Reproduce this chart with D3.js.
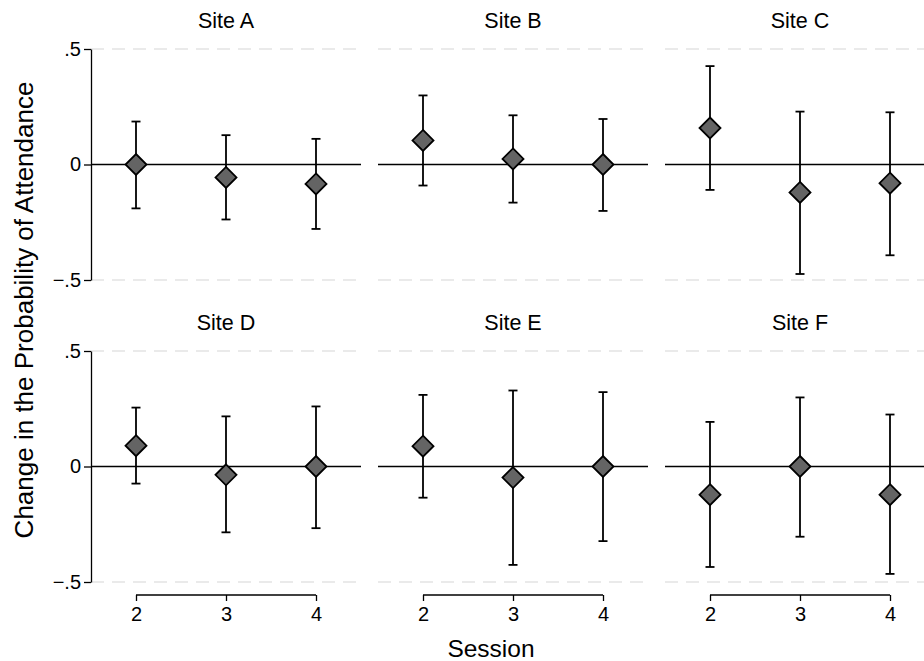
<!DOCTYPE html>
<html>
<head>
<meta charset="utf-8">
<script src="https://cdn.jsdelivr.net/npm/d3@7"></script>
<style>
  body { margin: 0; background: #fff; }
  svg { font-family: 'Liberation Sans', Arial, sans-serif; display: block; }
  .axis text { font-family: 'Liberation Sans', Arial, sans-serif; font-size: 20px; fill: #000; }
  .axis path, .axis line { stroke: #000; stroke-width: 1.3; }
</style>
</head>
<body>
<div id="chart"></div>
<script>
// sites shown in panels, left to right then top to bottom
let sites = ['Site A', 'Site B', 'Site C', 'Site D', 'Site E', 'Site F'];
let sessions = [2, 3, 4];
let yTicks = [-0.5, 0, 0.5];

// point estimates per site (sessions 2, 3, 4)
let estimate = [
  [0.000, -0.056, -0.084],
  [0.104, 0.024, 0.000],
  [0.158, -0.121, -0.081],
  [0.090, -0.036, 0.000],
  [0.088, -0.048, 0.000],
  [-0.122, 0.000, -0.122]
];
// upper and lower ends of the confidence intervals
let upper = [
  [0.186, 0.127, 0.111],
  [0.299, 0.213, 0.197],
  [0.426, 0.229, 0.226],
  [0.255, 0.217, 0.260],
  [0.310, 0.329, 0.322],
  [0.193, 0.299, 0.225]
];
let lower = [
  [-0.190, -0.238, -0.279],
  [-0.091, -0.165, -0.201],
  [-0.110, -0.474, -0.393],
  [-0.074, -0.285, -0.267],
  [-0.135, -0.426, -0.323],
  [-0.435, -0.304, -0.465]
];

let width = 924, height = 661;
let panelWidth = 270, panelHeight = 231;
let panelLeft = [91, 378, 665];
let panelTop = [49, 351];

let svg = d3.select('#chart')
  .append('svg')
  .attr('width', width)
  .attr('height', height);

let x = d3.scaleLinear().domain([1.5, 4.5]).range([0, panelWidth]);
let y = d3.scaleLinear().domain([-0.5, 0.5]).range([panelHeight, 0]);

function fmt(d) {
  if (d === 0) return '0';
  return d3.format('.1f')(d).replace('0.', '.');
}

sites.forEach(function(site, i) {
  let col = i % 3, row = Math.floor(i / 3);
  let g = svg.append('g')
    .attr('transform', 'translate(' + panelLeft[col] + ',' + panelTop[row] + ')');

  // dashed grid at +/- .5
  g.selectAll('.grid')
    .data([-0.5, 0.5])
    .enter()
    .append('line')
    .attr('x1', 0)
    .attr('x2', panelWidth)
    .attr('y1', d => y(d))
    .attr('y2', d => y(d))
    .attr('stroke', '#e3e3e3')
    .attr('stroke-width', 1.3)
    .attr('stroke-dasharray', '13,8');

  // reference line at zero
  g.append('line')
    .attr('x1', 0)
    .attr('x2', panelWidth)
    .attr('y1', y(0))
    .attr('y2', y(0))
    .attr('stroke', '#000')
    .attr('stroke-width', 1.6);

  // title
  g.append('text')
    .attr('x', panelWidth / 2)
    .attr('y', -21)
    .attr('text-anchor', 'middle')
    .style('font-size', '21.5px')
    .text(site);

  if (col === 0) {
    g.append('g')
      .attr('class', 'axis')
      .call(d3.axisLeft(y).tickValues(yTicks).tickFormat(fmt).tickSize(7).tickSizeOuter(0).tickPadding(3));
  }

  if (row === 1) {
    let xAxis = g.append('g')
      .attr('class', 'axis')
      .attr('transform', 'translate(0,' + (panelHeight + 13) + ')')
      .call(d3.axisBottom(x).tickValues(sessions).tickFormat(d3.format('d')).tickSize(6).tickPadding(6));
    xAxis.select('.domain')
      .attr('d', 'M' + x(sessions[0]) + ',0H' + x(sessions[sessions.length - 1]));
  }

  // error bars
  let bars = g.selectAll('.bar')
    .data(sessions)
    .enter()
    .append('g')
    .attr('stroke', '#000')
    .attr('stroke-width', 1.8);
  bars.append('line')
    .attr('x1', d => x(d))
    .attr('x2', d => x(d))
    .attr('y1', (d, j) => y(upper[i][j]))
    .attr('y2', (d, j) => y(lower[i][j]));
  bars.append('line')
    .attr('x1', d => x(d) - 4.5)
    .attr('x2', d => x(d) + 4.5)
    .attr('y1', (d, j) => y(upper[i][j]))
    .attr('y2', (d, j) => y(upper[i][j]));
  bars.append('line')
    .attr('x1', d => x(d) - 4.5)
    .attr('x2', d => x(d) + 4.5)
    .attr('y1', (d, j) => y(lower[i][j]))
    .attr('y2', (d, j) => y(lower[i][j]));

  // diamonds
  let r = 10.5;
  g.selectAll('.pt')
    .data(sessions)
    .enter()
    .append('path')
    .attr('d', function(d, j) {
      let cx = x(d), cy = y(estimate[i][j]);
      return 'M' + cx + ',' + (cy - r) + 'L' + (cx + r) + ',' + cy +
        'L' + cx + ',' + (cy + r) + 'L' + (cx - r) + ',' + cy + 'Z';
    })
    .attr('fill', '#646464')
    .attr('stroke', '#000')
    .attr('stroke-width', 1.8);
});

// axis titles
svg.append('text')
  .attr('transform', 'translate(33,310) rotate(-90)')
  .attr('text-anchor', 'middle')
  .style('font-size', '26px')
  .text('Change in the Probability of Attendance');

svg.append('text')
  .attr('x', 491)
  .attr('y', 657)
  .attr('text-anchor', 'middle')
  .style('font-size', '24.5px')
  .text('Session');
</script>
</body>
</html>
